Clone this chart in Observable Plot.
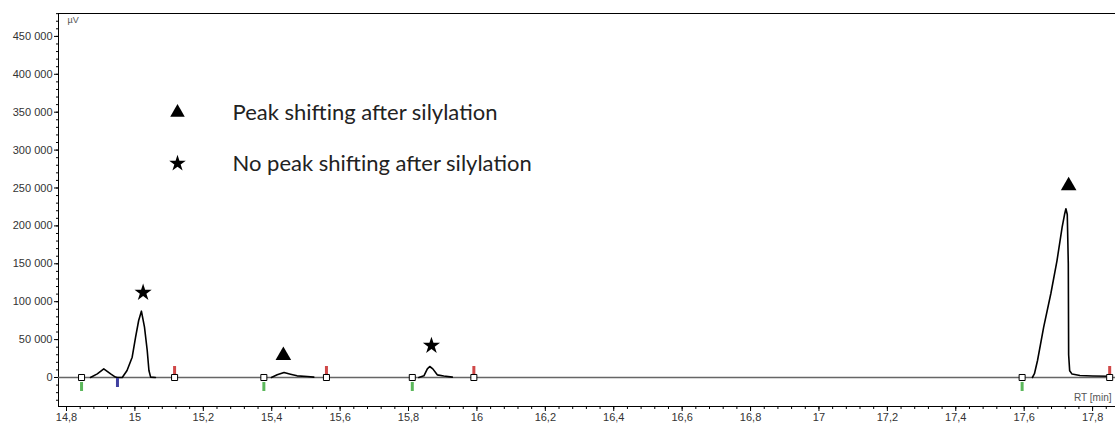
<!DOCTYPE html>
<html><head><meta charset="utf-8">
<script src="https://cdn.jsdelivr.net/npm/d3@7"></script>
<script src="https://cdn.jsdelivr.net/npm/@observablehq/plot@0.6"></script>
<style>body{margin:0;background:#fff} #chart svg{display:block}</style>
</head><body><div id="chart"></div>
<script>
// Chromatogram trace (RT in min, signal in µV), segment id per point
const traceRT = [
  14.870, 14.890, 14.909, 14.929, 14.943, 14.949, 14.963, 14.977, 14.992, 15.002, 15.011, 15.019, 15.028, 15.036, 15.041, 15.046, 15.060,
  15.399, 15.416, 15.436, 15.455, 15.474, 15.504, 15.523,
  15.830, 15.845, 15.855, 15.862, 15.871, 15.884, 15.903, 15.928,
  17.624, 17.630, 17.639, 17.657, 17.678, 17.696, 17.711, 17.718, 17.722, 17.726, 17.729, 17.730, 17.733, 17.740, 17.763, 17.800, 17.850
];
const traceSignal = [
  0, 4800, 11400, 4800, 600, 0, 0, 9200, 26800, 53200, 75200, 87500, 66400, 35600, 9200, 500, 0,
  0, 3500, 6500, 4400, 2200, 1300, 500,
  0, 2200, 11400, 14500, 11400, 3500, 2000, 500,
  0, 5000, 22400, 66400, 110800, 154300, 198300, 215000, 222600, 215000, 150000, 30000, 9000, 4500, 2600, 2000, 1600
];
const traceSegment = [
  1,1,1,1,1,1,1,1,1,1,1,1,1,1,1,1,1,
  2,2,2,2,2,2,2,
  3,3,3,3,3,3,3,3,
  4,4,4,4,4,4,4,4,4,4,4,4,4,4,4,4,4
];
// Integration markers
const boundaryRT = [14.844, 15.116, 15.377, 15.560, 15.811, 15.991, 17.594, 17.850];
const startFlagRT = [14.844, 15.377, 15.811, 17.594];
const splitFlagRT = [14.949];
const endFlagRT = [15.116, 15.560, 15.991, 17.850];
// Annotation symbols
const annotRT = [15.024, 15.434, 15.867, 17.730];
const annotSignal = [112000, 29000, 42000, 253000];
const annotType = ["star", "triangle", "star", "triangle"];
// Legend
const legendLabels = ["Peak shifting after silylation", "No peak shifting after silylation"];
const legendSymbols = ["triangle", "star"];
// Axis ticks
const yTicks = [0, 50000, 100000, 150000, 200000, 250000, 300000, 350000, 400000, 450000];
const xTicks = [14.8, 15, 15.2, 15.4, 15.6, 15.8, 16, 16.2, 16.4, 16.6, 16.8, 17, 17.2, 17.4, 17.6, 17.8];

const xDomain = [14.7766, 17.867];
const yDomain = [-38260, 480200];

const trace = traceRT.map((rt, i) => ({rt, signal: traceSignal[i], seg: traceSegment[i]}));
const annots = annotRT.map((rt, i) => ({rt, signal: annotSignal[i], type: annotType[i]}));

const xMinor = d3.range(0, 80).map(i => +(14.8 + i * 0.04).toFixed(2)).filter(v => v <= xDomain[1]);
const yMinor = d3.range(-30000, 480001, 10000);

const fmtY = d => d3.format(",")(d).replace(/,/g, " ");
const fmtX = d => String(+d.toFixed(1)).replace(".", ",");
const none = () => "";

const bar = {draw(context, size) { context.rect(-1.5, -4.5, 3, 9); }};

const chart = Plot.plot({
  width: 1115,
  height: 425,
  marginLeft: 58,
  marginRight: 0,
  marginTop: 13,
  marginBottom: 19,
  style: {fontFamily: "'Liberation Sans', Arial, sans-serif", fontSize: "11px", color: "#333", background: "#fff"},
  x: {domain: xDomain},
  y: {domain: yDomain},
  marks: [
    Plot.frame({anchor: "top", stroke: "#000"}),
    Plot.frame({anchor: "left", stroke: "#000"}),
    Plot.frame({anchor: "bottom", stroke: "#000"}),
    Plot.axisY({ticks: yMinor, tickSize: 2, tickFormat: none, label: null, stroke: "#000"}),
    Plot.axisY({ticks: yTicks, tickSize: 4, tickPadding: 2, tickFormat: fmtY, label: null, stroke: "#000", fill: "#333"}),
    Plot.axisX({ticks: xMinor, tickSize: 3, tickFormat: none, label: null, stroke: "#000"}),
    Plot.axisX({ticks: xTicks, tickSize: 5, tickPadding: 2, tickFormat: fmtX, label: null, stroke: "#000", fill: "#333"}),
    Plot.ruleY([0], {stroke: "#666", strokeWidth: 1.5}),
    Plot.line(trace, {x: "rt", y: "signal", z: "seg", stroke: "#000", strokeWidth: 1.6}),
    Plot.dot(startFlagRT, {x: d => d, y: 0, symbol: bar, r: 3, fill: "#5cb85c", stroke: null, dy: 9}),
    Plot.dot(splitFlagRT, {x: d => d, y: 0, symbol: bar, r: 3, fill: "#4040a0", stroke: null, dy: 5}),
    Plot.dot(endFlagRT, {x: d => d, y: 0, symbol: bar, r: 3, fill: "#d04848", stroke: null, dy: -7}),
    Plot.dot(boundaryRT, {x: d => d, y: 0, symbol: "square", r: 3.4, fill: "#fff", stroke: "#000", strokeWidth: 1}),
    Plot.dot(annots.filter(d => d.type === "triangle"), {x: "rt", y: "signal", symbol: "triangle", r: 5.8, fill: "#000", stroke: null}),
    Plot.dot(annots.filter(d => d.type === "star"), {x: "rt", y: "signal", symbol: "star", r: 5.4, fill: "#000", stroke: null}),
    Plot.dot([legendSymbols[0]], {frameAnchor: "top-left", dx: 119, dy: 99, symbol: "triangle", r: 5.4, fill: "#000", stroke: null}),
    Plot.dot([legendSymbols[1]], {frameAnchor: "top-left", dx: 119, dy: 150, symbol: "star", r: 5.2, fill: "#000", stroke: null}),
    Plot.text([legendLabels[0]], {frameAnchor: "top-left", dx: 174, dy: 99, text: d => d, textAnchor: "start", lineAnchor: "middle", fontSize: 22, fill: "#222", fontFamily: "Lato, 'Open Sans', sans-serif"}),
    Plot.text([legendLabels[1]], {frameAnchor: "top-left", dx: 174, dy: 150, text: d => d, textAnchor: "start", lineAnchor: "middle", fontSize: 22, fill: "#222", fontFamily: "Lato, 'Open Sans', sans-serif"}),
    Plot.text(["µV"], {frameAnchor: "top-left", dx: 9, dy: 7, text: d => d, textAnchor: "start", lineAnchor: "middle", fontSize: 9, fill: "#555"}),
    Plot.text(["RT [min]"], {frameAnchor: "bottom-right", dx: -4, dy: -9, text: d => d, textAnchor: "end", lineAnchor: "middle", fontSize: 10, fill: "#555"})
  ]
});
document.getElementById("chart").appendChild(chart);
</script>
</body></html>
